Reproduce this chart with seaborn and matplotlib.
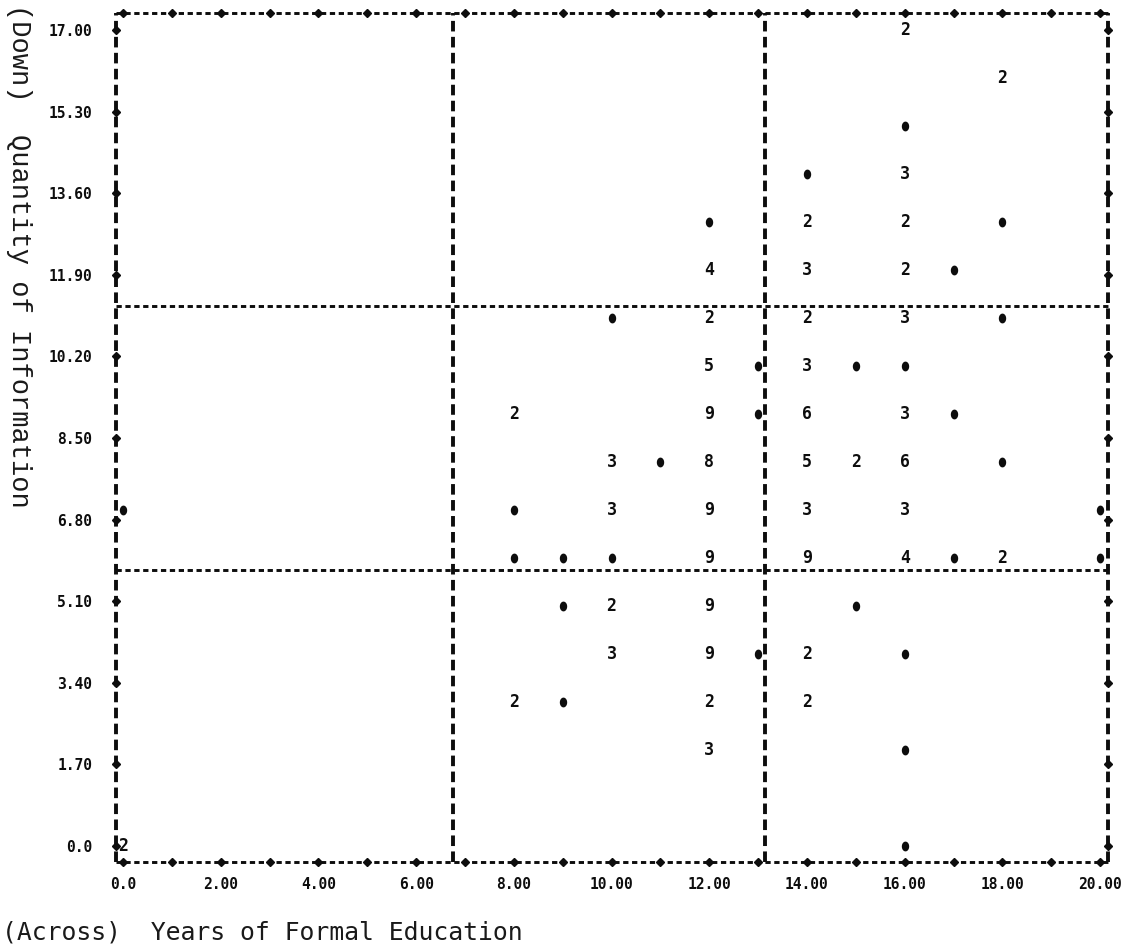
import numpy as np
import pandas as pd
import matplotlib
matplotlib.use("Agg")
import matplotlib.pyplot as plt
import seaborn as sns
from matplotlib.path import Path

# Years of formal education, listed row by row from the top of the plot
education = [
    16,
    18,
    16,
    14, 16,
    12, 14, 16, 18,
    12, 14, 16, 17,
    10, 12, 14, 16, 18,
    12, 13, 14, 15, 16,
    8, 12, 13, 14, 16, 17,
    10, 11, 12, 14, 15, 16, 18,
    0, 8, 10, 12, 14, 16, 20,
    8, 9, 10, 12, 14, 16, 17, 18, 20,
    9, 10, 12, 15,
    10, 12, 13, 14, 16,
    8, 9, 12, 14,
    12, 16,
    0, 16,
]
# Quantity of information score for each plotted position
information = [
    17,
    16,
    15,
    14, 14,
    13, 13, 13, 13,
    12, 12, 12, 12,
    11, 11, 11, 11, 11,
    10, 10, 10, 10, 10,
    9, 9, 9, 9, 9, 9,
    8, 8, 8, 8, 8, 8, 8,
    7, 7, 7, 7, 7, 7, 7,
    6, 6, 6, 6, 6, 6, 6, 6, 6,
    5, 5, 5, 5,
    4, 4, 4, 4, 4,
    3, 3, 3, 3,
    2, 2,
    0, 0,
]
# Number of cases printed at each position (1 = single dot)
cases = [
    2,
    2,
    1,
    1, 3,
    1, 2, 2, 1,
    4, 3, 2, 1,
    1, 2, 2, 3, 1,
    5, 1, 3, 1, 1,
    2, 9, 1, 6, 3, 1,
    3, 1, 8, 5, 2, 6, 1,
    1, 1, 3, 9, 3, 3, 1,
    1, 1, 1, 9, 9, 4, 1, 2, 1,
    1, 2, 9, 1,
    3, 9, 1, 2, 1,
    2, 1, 2, 2,
    3, 1,
    2, 1,
]

x_ticks = [0, 2, 4, 6, 8, 10, 12, 14, 16, 18, 20]
x_labels = ["0.0", "2.00", "4.00", "6.00", "8.00", "10.00",
            "12.00", "14.00", "16.00", "18.00", "20.00"]
y_ticks = [0, 1.7, 3.4, 5.1, 6.8, 8.5, 10.2, 11.9, 13.6, 15.3, 17.0]
y_labels = ["0.0", "1.70", "3.40", "5.10", "6.80", "8.50",
            "10.20", "11.90", "13.60", "15.30", "17.00"]

x_title = "(Across)  Years of Formal Education"
y_title = "(Down)  Quantity of Information"

df = pd.DataFrame({"education": education,
                   "information": information,
                   "cases": cases})

sns.set_theme(style="white")
plt.rcParams["lines.scale_dashes"] = False
plt.rcParams["font.family"] = ["DejaVu Sans Mono", "DejaVu Sans"]

ink = "#0d0d0d"

fig = plt.figure(figsize=(11.23, 9.47), dpi=100)
fig.patch.set_facecolor("white")
ax = fig.add_axes([0.1033, 0.0898, 0.8833, 0.8965])
ax.set_facecolor("white")

X0, X1 = -0.143, 20.16
Y0, Y1 = -0.333, 17.354
ax.set_xlim(X0, X1)
ax.set_ylim(Y0, Y1)

# printer-style frame: "-" runs horizontally, "I" columns vertically
h_style = dict(color=ink, lw=2.1, dashes=(3.8, 2.6), solid_capstyle="butt",
               dash_capstyle="butt", clip_on=False, zorder=3)
v_style = dict(color=ink, lw=2.8, dashes=(7.6, 3.9), solid_capstyle="butt",
               dash_capstyle="butt", clip_on=False, zorder=3)

for yb in (Y0, Y1):
    ax.plot([X0, X1], [yb, yb], **h_style)
for xb in (X0, X1):
    ax.plot([xb, xb], [Y0, Y1], **v_style)

# quadrant dividers
for xv in (6.75, 13.15):
    ax.plot([xv, xv], [Y0, Y1], **v_style)
for yh in (5.75, 11.25):
    ax.plot([X0, X1], [yh, yh], **h_style)

# "+" marks along the frame
tick_kw = dict(ls="none", marker="D", ms=4.4, color=ink, clip_on=False, zorder=4)
xs_int = np.arange(0, 21)
ax.plot(xs_int, np.full(len(xs_int), Y1), **tick_kw)
ax.plot(xs_int, np.full(len(xs_int), Y0), **tick_kw)
ax.plot(np.full(len(y_ticks), X0), y_ticks, **tick_kw)
ax.plot(np.full(len(y_ticks), X1), y_ticks, **tick_kw)

# single cases as printed dots
t = np.linspace(0, 2 * np.pi, 41)
dot = Path(np.column_stack([0.75 * np.cos(t), np.sin(t)]))
singles = df[df["cases"] == 1]
sns.scatterplot(data=singles, x="education", y="information", ax=ax,
                marker=dot, s=50, color=ink, edgecolor=ink, linewidth=0,
                legend=False, zorder=5, clip_on=False)

# multiple cases printed as their count
multi = df[df["cases"] > 1]
for _, r in multi.iterrows():
    ax.text(r["education"], r["information"], str(int(r["cases"])),
            ha="center", va="center", fontsize=12, fontweight="bold",
            color=ink, zorder=5)

for s in ax.spines.values():
    s.set_visible(False)
ax.grid(False)

ax.set_xticks(x_ticks)
ax.set_xticklabels(x_labels)
ax.set_yticks(y_ticks)
ax.set_yticklabels(y_labels)
ax.tick_params(axis="both", length=0, labelsize=10.5, colors=ink)
ax.tick_params(axis="x", pad=11)
ax.tick_params(axis="y", pad=17)
for lab in ax.get_xticklabels() + ax.get_yticklabels():
    lab.set_fontweight("bold")
ax.set_xlabel("")
ax.set_ylabel("")

fig.text(2 / 1123, 1 - 932 / 947, x_title, ha="left", va="center",
         fontsize=17.8, family=["DejaVu Sans Mono"], color="#1a1a1a")
fig.text(19 / 1123, 1 - 4 / 947, y_title, ha="center", va="top",
         rotation=-90, fontsize=19.5, family=["Liberation Mono"], color="#1a1a1a")

fig.savefig("out.png", dpi=100, facecolor="white")
